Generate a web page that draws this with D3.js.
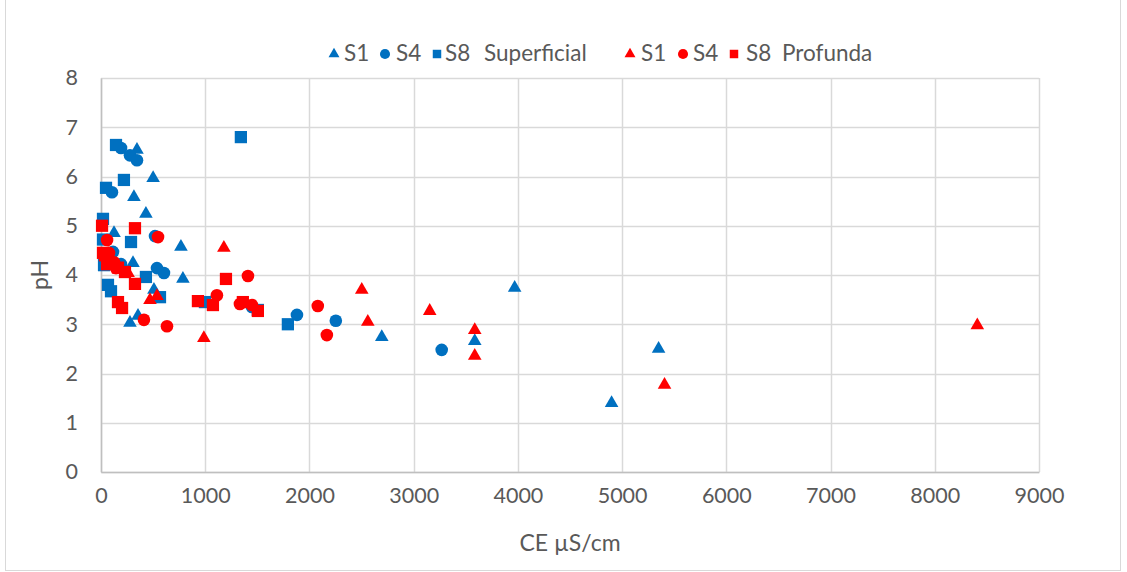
<!DOCTYPE html>
<html>
<head>
<meta charset="utf-8">
<script src="https://cdn.jsdelivr.net/npm/d3@7"></script>
<style>
  body { margin: 0; background: #fff; }
  text { font-family: Lato, "Open Sans", "Liberation Sans", sans-serif; }
</style>
</head>
<body>
<div id="chart"></div>
<script>
// [CE µS/cm, pH]
const s1Superficial = [[345, 6.54], [500, 5.97], [316, 5.58], [431, 5.24], [125, 4.85], [767, 4.57],
  [307, 4.24], [786, 3.92], [508, 3.70], [278, 3.03], [355, 3.17], [2694, 2.74], [3586, 2.66],
  [3969, 3.74], [4899, 1.40], [5350, 2.50]];
const s4Superficial = [[192, 6.58], [278, 6.43], [345, 6.33], [105, 5.68], [115, 4.47], [518, 4.79],
  [537, 4.14], [604, 4.04], [192, 4.22], [1448, 3.35], [1880, 3.19], [2253, 3.07], [3269, 2.48]];
const s8Superficial = [[144, 6.64], [1342, 6.80], [220, 5.93], [48, 5.77], [19, 5.14], [288, 4.67],
  [19, 4.72], [29, 4.20], [67, 3.80], [96, 3.67], [431, 3.96], [566, 3.55], [997, 3.45], [1505, 3.29],
  [1793, 3.00]];
const s1Profunda = [[1179, 4.55], [2502, 3.70], [2560, 3.05], [3154, 3.27], [3586, 2.88], [3586, 2.36],
  [5407, 1.77], [8408, 2.98], [987, 2.72], [470, 3.49], [537, 3.57], [260, 4.04]];
const s4Profunda = [[547, 4.77], [58, 4.71], [125, 4.26], [144, 4.14], [412, 3.09], [633, 2.96],
  [1112, 3.59], [1410, 3.98], [1333, 3.41], [1448, 3.39], [2080, 3.37], [2167, 2.78], [77, 4.45]];
const s8Profunda = [[10, 5.00], [326, 4.95], [19, 4.45], [58, 4.22], [230, 4.06], [326, 3.82],
  [163, 3.45], [202, 3.33], [930, 3.47], [1074, 3.39], [1199, 3.92], [1361, 3.45], [1505, 3.27],
  [38, 4.40], [163, 4.15]];

const xTicks = [0, 1000, 2000, 3000, 4000, 5000, 6000, 7000, 8000, 9000];
const yTicks = [0, 1, 2, 3, 4, 5, 6, 7, 8];

const blue = '#0070C0';
const red = '#FF0000';
const series = [
  { data: s1Superficial, shape: d3.symbolTriangle, color: blue },
  { data: s4Superficial, shape: d3.symbolCircle, color: blue },
  { data: s8Superficial, shape: d3.symbolSquare, color: blue },
  { data: s1Profunda, shape: d3.symbolTriangle, color: red },
  { data: s4Profunda, shape: d3.symbolCircle, color: red },
  { data: s8Profunda, shape: d3.symbolSquare, color: red }
];

const width = 1127;
const height = 572;
const margin = { top: 78, right: 88, bottom: 100, left: 101 };

const svg = d3.select('#chart')
  .append('svg')
  .attr('width', width)
  .attr('height', height);

svg.append('rect')
  .attr('x', 5.5).attr('y', -1)
  .attr('width', 1115).attr('height', 571.5)
  .attr('fill', 'none')
  .attr('stroke', '#d9d9d9');

const x = d3.scaleLinear().domain([0, 9000]).range([margin.left, width - margin.right]);
const y = d3.scaleLinear().domain([0, 8]).range([height - margin.bottom, margin.top]);

// gridlines
svg.append('g')
  .selectAll('line.h')
  .data(yTicks)
  .enter()
  .append('line')
  .attr('x1', x(0)).attr('x2', x(9000))
  .attr('y1', d => Math.round(y(d)) + 0.5).attr('y2', d => Math.round(y(d)) + 0.5)
  .attr('stroke', '#d9d9d9')
  .attr('stroke-width', 1.5);

svg.append('g')
  .selectAll('line.v')
  .data(xTicks)
  .enter()
  .append('line')
  .attr('x1', d => Math.round(x(d)) + 0.5).attr('x2', d => Math.round(x(d)) + 0.5)
  .attr('y1', y(0)).attr('y2', y(8))
  .attr('stroke', '#d9d9d9')
  .attr('stroke-width', 1.5);

// axes
const xAxis = svg.append('g')
  .attr('transform', `translate(0, ${y(0)})`)
  .call(d3.axisBottom(x).tickValues(xTicks).tickSize(0).tickPadding(16).tickFormat(d3.format('d')));
const yAxis = svg.append('g')
  .attr('transform', `translate(${x(0)}, 0)`)
  .call(d3.axisLeft(y).tickValues(yTicks).tickSize(0).tickPadding(23));

[xAxis, yAxis].forEach(a => {
  a.select('.domain').attr('stroke', '#bfbfbf').attr('stroke-width', 1.5);
  a.selectAll('text')
    .attr('fill', '#595959')
    .style('font-family', 'Lato, "Open Sans", sans-serif')
    .style('font-size', '21.5px');
});

// points
const markerSize = { triangle: 80, circle: 125, square: 150 };
const sizeOf = shape => shape === d3.symbolTriangle ? markerSize.triangle
  : shape === d3.symbolCircle ? markerSize.circle : markerSize.square;

series.forEach(s => {
  svg.append('g')
    .selectAll('path')
    .data(s.data)
    .enter()
    .append('path')
    .attr('transform', d => `translate(${x(d[0])}, ${y(d[1])})`)
    .attr('d', d3.symbol().type(s.shape).size(sizeOf(s.shape)))
    .attr('fill', s.color);
});

// axis titles
svg.append('text')
  .attr('x', (x(0) + x(9000)) / 2)
  .attr('y', 551)
  .attr('text-anchor', 'middle')
  .attr('fill', '#595959')
  .style('font-size', '23px')
  .text('CE µS/cm');

svg.append('text')
  .attr('transform', `translate(48, ${(y(0) + y(8)) / 2}) rotate(-90)`)
  .attr('text-anchor', 'middle')
  .attr('fill', '#595959')
  .style('font-size', '23px')
  .text('pH');

// legend
const legendItems = [
  { shape: d3.symbolTriangle, color: blue, label: 'S1', mx: 334, tx: 344 },
  { shape: d3.symbolCircle, color: blue, label: 'S4', mx: 385, tx: 396 },
  { shape: d3.symbolSquare, color: blue, label: 'S8', mx: 437, tx: 445 },
  { shape: d3.symbolTriangle, color: red, label: 'S1', mx: 630, tx: 641 },
  { shape: d3.symbolCircle, color: red, label: 'S4', mx: 683, tx: 693 },
  { shape: d3.symbolSquare, color: red, label: 'S8', mx: 734, tx: 746 }
];
const legendGroups = [
  { label: 'Superficial', tx: 484 },
  { label: 'Profunda', tx: 782 }
];
const legend = svg.append('g');
legendItems.forEach(it => {
  legend.append('path')
    .attr('transform', `translate(${it.mx}, 54)`)
    .attr('d', d3.symbol().type(it.shape).size(it.shape === d3.symbolTriangle ? 52 : it.shape === d3.symbolCircle ? 80 : 72))
    .attr('fill', it.color);
  legend.append('text')
    .attr('x', it.tx)
    .attr('y', 61)
    .attr('fill', '#595959')
    .style('font-size', '22.5px')
    .text(it.label);
});
legendGroups.forEach(g => {
  legend.append('text')
    .attr('x', g.tx)
    .attr('y', 61)
    .attr('fill', '#595959')
    .style('font-size', '22.5px')
    .text(g.label);
});
</script>
</body>
</html>
